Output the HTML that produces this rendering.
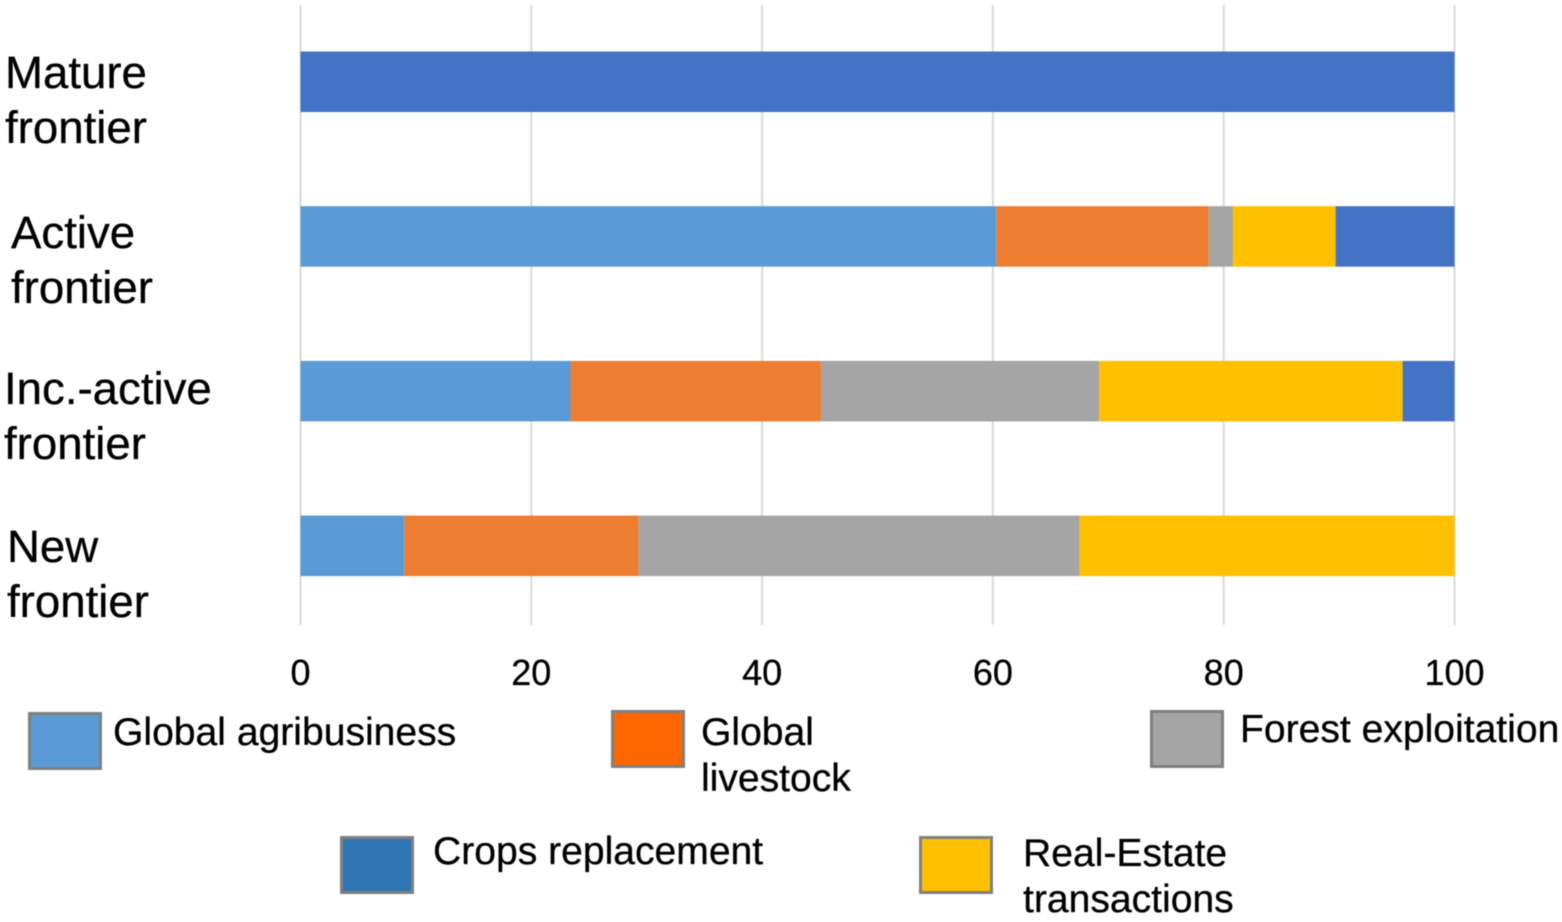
<!DOCTYPE html>
<html lang="en">
<head>
<meta charset="utf-8">
<title>Frontier stacked bar chart</title>
<style>
  html, body { margin: 0; padding: 0; background: #fff; width: 1562px; height: 922px; overflow: hidden; }
  svg { display: block; filter: blur(0.5px); }
  text { font-family: "Liberation Sans", sans-serif; fill: #000; stroke: #000; stroke-width: 0.3px; }
  .cat { font-size: 45.6px; }
  .tick { font-size: 36px; text-anchor: middle; }
  .leg { font-size: 39.1px; }
  .swatch { stroke: #7f7f7f; stroke-width: 3; }
</style>
</head>
<body>
<svg id="chart" width="1562" height="922" viewBox="0 0 1562 922" xmlns="http://www.w3.org/2000/svg">
  <g id="grid"></g>
  <g id="bars"></g>
  <g id="ticks"></g>

  <g>
    <text class="cat" x="5" y="88">Mature</text>
    <text class="cat" x="5" y="143">frontier</text>
    <text class="cat" x="11" y="248">Active</text>
    <text class="cat" x="11" y="303">frontier</text>
    <text class="cat" x="4" y="404">Inc.-active</text>
    <text class="cat" x="4" y="459">frontier</text>
    <text class="cat" x="7" y="562">New</text>
    <text class="cat" x="7" y="617">frontier</text>
  </g>

  <g>
    <g>
      <rect class="swatch" x="29.5" y="713.5" width="71" height="55" fill="#5b9bd5"/>
      <text class="leg" x="113" y="745">Global agribusiness</text>
    </g>
    <g>
      <rect class="swatch" x="612.5" y="711.5" width="71" height="55" fill="#ff6600"/>
      <text class="leg" x="701" y="745">Global</text>
      <text class="leg" x="701" y="791">livestock</text>
    </g>
    <g>
      <rect class="swatch" x="1151.5" y="711.5" width="71" height="55" fill="#a5a5a5"/>
      <text class="leg" x="1240" y="742">Forest exploitation</text>
    </g>
    <g>
      <rect class="swatch" x="341.5" y="837.5" width="71" height="55" fill="#2e75b6"/>
      <text class="leg" x="433" y="864">Crops replacement</text>
    </g>
    <g>
      <rect class="swatch" x="920.5" y="837.5" width="71" height="55" fill="#ffc000"/>
      <text class="leg" x="1023" y="866">Real-Estate</text>
      <text class="leg" x="1023" y="912">transactions</text>
    </g>
  </g>
</svg>

<script>
const categories = ["Mature frontier", "Active frontier", "Inc.-active frontier", "New frontier"];
const seriesNames = ["Global agribusiness", "Global livestock", "Forest exploitation", "Real-Estate transactions", "Crops replacement"];
const globalAgribusiness = [0, 60.3, 23.4, 9.0];
const globalLivestock = [0, 18.4, 21.7, 20.3];
const forestExploitation = [0, 2.1, 24.1, 38.2];
const realEstateTransactions = [0, 8.9, 26.3, 32.5];
const cropsReplacement = [100, 10.3, 4.5, 0];
const tickLabels = [0, 20, 40, 60, 80, 100];

const allSeries = [globalAgribusiness, globalLivestock, forestExploitation, realEstateTransactions, cropsReplacement];
const seriesColors = ["#5b9bd5", "#ed7d31", "#a5a5a5", "#ffc000", "#4472c4"];

const SVG_NS = "http://www.w3.org/2000/svg";
function xScale(v) { return 300.5 + v * 11.54; }
function bandTop(i) { return 51.5 + i * 154.7; }
const BAR_HEIGHT = 60.5;

const gridGroup = document.getElementById("grid");
const ticksGroup = document.getElementById("ticks");
const barsGroup = document.getElementById("bars");

tickLabels.forEach(function (t) {
  const line = document.createElementNS(SVG_NS, "line");
  line.setAttribute("x1", xScale(t));
  line.setAttribute("x2", xScale(t));
  line.setAttribute("y1", 5);
  line.setAttribute("y2", 625);
  line.setAttribute("stroke", "#d9d9d9");
  line.setAttribute("stroke-width", 2);
  
  
  gridGroup.appendChild(line);

  const label = document.createElementNS(SVG_NS, "text");
  label.setAttribute("class", "tick");
  label.setAttribute("x", xScale(t));
  label.setAttribute("y", 685);
  label.textContent = t;
  
  
  ticksGroup.appendChild(label);
});

categories.forEach(function (cat, i) {
  let cum = 0;
  allSeries.forEach(function (series, s) {
    const v = series[i];
    if (v > 0) {
      const r = document.createElementNS(SVG_NS, "rect");
      r.setAttribute("x", xScale(cum));
      r.setAttribute("y", bandTop(i));
      r.setAttribute("width", xScale(cum + v) - xScale(cum));
      r.setAttribute("height", BAR_HEIGHT);
      r.setAttribute("fill", seriesColors[s]);
      
      
      const tip = document.createElementNS(SVG_NS, "title");
      tip.textContent = cat + " – " + seriesNames[s] + ": " + v;
      r.appendChild(tip);
      barsGroup.appendChild(r);
    }
    cum += v;
  });
});
</script>
</body>
</html>
